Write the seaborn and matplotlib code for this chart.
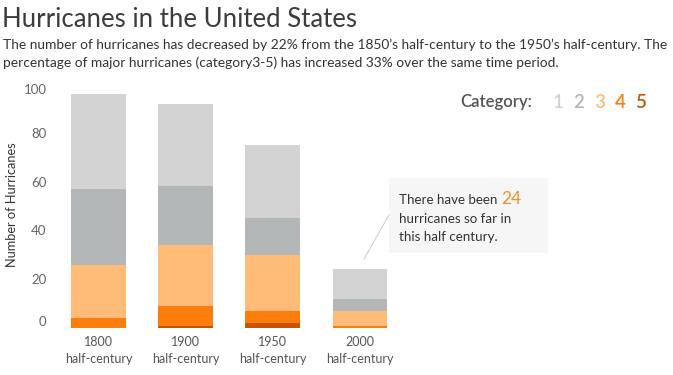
import matplotlib
matplotlib.use("Agg")
import matplotlib.pyplot as plt
import pandas as pd
import seaborn as sns

# hurricanes per half-century, by category
periods = ["1800", "1900", "1950", "2000"]
cat1 = [39, 34, 30, 12]
cat2 = [31, 24, 15, 5]
cat3 = [22, 25, 23, 6]
cat4 = [4, 8, 5, 1]
cat5 = [0, 1, 2, 0]
categories = ["1", "2", "3", "4", "5"]
colors = ["#d3d3d3", "#b4b7b8", "#ffbc79", "#fc7d0b", "#c85200"]
yticks = [0, 20, 40, 60, 80, 100]

df = pd.DataFrame({"period": periods, "1": cat1, "2": cat2, "3": cat3,
                   "4": cat4, "5": cat5})
# stack from category 5 at the bottom up to category 1 on top
stack_order = ["5", "4", "3", "2", "1"]
cum = df[stack_order].cumsum(axis=1)

sns.set_style("white")
plt.rcParams["font.family"] = ["Lato", "DejaVu Sans"]

fig = plt.figure(figsize=(6.73, 3.75), dpi=100)
ax = fig.add_axes([55 / 673, 1 - 328 / 375, 610 / 673, 244 / 375])

# tallest cumulative first so the lower segments are drawn over it
for cat in reversed(stack_order):
    sns.barplot(data=cum.assign(period=df["period"]), x="period", y=cat,
                color=colors[categories.index(cat)], width=0.63,
                saturation=1, ax=ax, linewidth=0)

ax.set_xlim(-0.5, 6.5)
ax.set_ylim(0, 100)
ax.set_yticks(yticks)
ax.set_yticklabels([str(t) for t in yticks])
for lab in ax.get_yticklabels():
    if lab.get_text() == "0":
        lab.set_va("bottom")
    elif lab.get_text() == "100":
        lab.set_va("top")
ax.set_xticks(range(len(periods)))
ax.set_xticklabels([p + "\nhalf-century" for p in periods], linespacing=1.5)
ax.set_xticks([i - 0.5 for i in range(8)], minor=True)
ax.tick_params(axis="x", which="major", length=0, pad=6, labelsize=9,
               labelcolor="#555555")
ax.tick_params(axis="x", which="minor", length=5, width=0.6, color="#e6e6e6",
               direction="out")
ax.tick_params(axis="y", length=0, pad=6, labelsize=9.5, labelcolor="#666666")
ax.set_xlabel("")
ax.set_ylabel("")
sns.despine(ax=ax, left=True, bottom=True)
fig.text(12 / 673, 1 - 205 / 375, "Number of Hurricanes", fontsize=9.2,
         color="#333333", rotation=90, ha="center", va="center")

# title and subtitle
fig.text(2 / 673, 1 - 7 / 375, "Hurricanes in the United States",
         fontsize=18.5, color="#3c3c3c", va="top")
fig.text(3 / 673, 1 - 39 / 375,
         "The number of hurricanes has decreased by 22% from the 1850\u2019s "
         "half-century to the 1950\u2019s half-century. The\npercentage of major "
         "hurricanes (category3-5) has increased 33% over the same time period.",
         fontsize=9.9, color="#333333", va="top", linespacing=1.45)

# category legend
fig.text(460 / 673, 1 - 102 / 375, "Category:", fontsize=12, color="#555555",
         va="center", fontweight="semibold")
for i, cat in enumerate(categories):
    fig.text((553 + i * 20.5) / 673, 1 - 102 / 375, cat, fontsize=13.5,
             color=colors[i], va="center", fontweight="semibold")

# annotation box for the current half-century
box = plt.Rectangle((389 / 673, 1 - 253 / 375), 159 / 673, 75 / 375,
                    transform=fig.transFigure, facecolor="#f6f6f6",
                    edgecolor="none", zorder=0)
fig.patches.append(box)
fig.add_artist(plt.Line2D([364 / 673, 389 / 673], [1 - 259 / 375, 1 - 215 / 375],
                          color="#d0d0d0", linewidth=0.8))
total_now = sum(v[-1] for v in [cat1, cat2, cat3, cat4, cat5])
t = fig.text(399 / 673, 1 - 200 / 375, "There have been ", fontsize=9.6,
             color="#333333", va="center")
fig.canvas.draw()
bb = t.get_window_extent()
fig.text(bb.x1 / 673, 1 - 199 / 375, str(total_now), fontsize=12.5,
         color="#f28e2b", va="center")
fig.text(399 / 673, 1 - 219 / 375, "hurricanes so far in", fontsize=9.6,
         color="#333333", va="center")
fig.text(399 / 673, 1 - 237 / 375, "this half century.", fontsize=9.6,
         color="#333333", va="center")

fig.savefig("out.png", dpi=100)
